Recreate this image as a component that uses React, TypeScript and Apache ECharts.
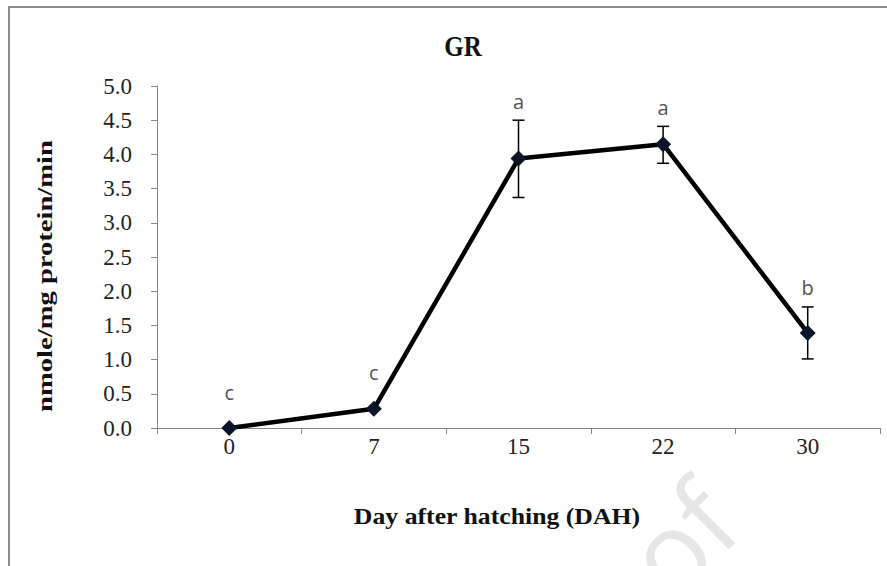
import React, { useEffect, useRef } from "react";
import * as echarts from "echarts";

// Glutathione reductase activity by larval age
const days = ["0", "7", "15", "22", "30"];
const activity = [0.0, 0.28, 3.94, 4.15, 1.39];
const errLow: (number | null)[] = [null, null, 3.37, 3.87, 1.01];
const errHigh: (number | null)[] = [null, null, 4.5, 4.41, 1.77];
const groups = ["c", "c", "a", "a", "b"];

const chartTitle = "GR";
const yName = "nmole/mg protein/min";
const xName = "Day after hatching (DAH)";
const watermark = "Proof";

const serif = "'Liberation Serif', 'Times New Roman', serif";
const sans = "'Open Sans', 'Liberation Sans', sans-serif";

export default function App() {
  const ref = useRef<HTMLDivElement>(null);

  useEffect(() => {
    if (!ref.current) return;
    const chart = echarts.init(ref.current, null, { renderer: "svg" });

    const errData = days
      .map((_, i) => (errLow[i] == null ? null : [i, errLow[i], errHigh[i]]))
      .filter((d) => d !== null);

    const letterData = days.map((_, i) => ({
      value: [i, errHigh[i] ?? activity[i]],
      label: { distance: errHigh[i] == null ? 26 : 9 },
    }));

    chart.setOption({
      animation: false,
      backgroundColor: "#ffffff",
      grid: { left: 157, right: 7, top: 86, bottom: 138 },
      xAxis: {
        type: "category",
        data: days,
        boundaryGap: true,
        axisLine: { show: true, lineStyle: { color: "#868686", width: 1 } },
        axisTick: { show: true, alignWithLabel: false, interval: 0, length: 6, lineStyle: { color: "#868686" } },
        axisLabel: { fontFamily: serif, fontSize: 23, color: "#222", margin: 7 },
        splitLine: { show: false },
      },
      yAxis: {
        type: "value",
        min: 0,
        max: 5,
        interval: 0.5,
        axisLine: { show: true, lineStyle: { color: "#868686", width: 1 } },
        axisTick: { show: true, length: 6, lineStyle: { color: "#868686" } },
        axisLabel: {
          fontFamily: serif,
          fontSize: 23,
          color: "#222",
          margin: 25,
          formatter: (v: number) => v.toFixed(1),
        },
        splitLine: { show: false },
      },
      graphic: [
        {
          type: "rect",
          silent: true,
          shape: { x: 9, y: 7, width: 900, height: 600 },
          style: { fill: "none", stroke: "#8c8c8c", lineWidth: 2 },
        },
        {
          type: "text",
          x: 463,
          y: 46,
          scaleY: 1.15,
          style: {
            text: chartTitle,
            font: `bold 25px ${serif}`,
            fill: "#111",
            align: "center",
            verticalAlign: "middle",
          },
        },
        {
          type: "text",
          x: 45,
          y: 276,
          rotation: Math.PI / 2,
          scaleX: 1.3,
          style: {
            text: yName,
            font: `bold 22px ${serif}`,
            fill: "#111",
            align: "center",
            verticalAlign: "middle",
          },
        },
        {
          type: "text",
          x: 497,
          y: 516,
          scaleX: 1.12,
          style: {
            text: xName,
            font: `bold 23px ${serif}`,
            fill: "#111",
            align: "center",
            verticalAlign: "middle",
          },
        },
        {
          type: "text",
          x: 755,
          y: 540,
          rotation: Math.PI / 4,
          z: -1,
          silent: true,
          style: {
            text: watermark,
            font: `110px ${sans}`,
            fill: "#e6e6e6",
            align: "right",
            verticalAlign: "bottom",
          },
        },
      ],
      series: [
        {
          type: "custom",
          z: 2,
          data: errData,
          renderItem: (params: any, api: any) => {
            const x = api.value(0);
            const lo = api.coord([x, api.value(1)]);
            const hi = api.coord([x, api.value(2)]);
            const w = 6;
            const style = { stroke: "#000", lineWidth: 1.5 };
            return {
              type: "group",
              children: [
                { type: "line", shape: { x1: lo[0], y1: lo[1], x2: hi[0], y2: hi[1] }, style },
                { type: "line", shape: { x1: hi[0] - w, y1: hi[1], x2: hi[0] + w, y2: hi[1] }, style },
                { type: "line", shape: { x1: lo[0] - w, y1: lo[1], x2: lo[0] + w, y2: lo[1] }, style },
              ],
            };
          },
        },
        {
          type: "line",
          z: 3,
          data: activity,
          symbol: "diamond",
          symbolSize: 16,
          lineStyle: { color: "#000", width: 4.5 },
          itemStyle: { color: "#0a1628" },
        },
        {
          type: "scatter",
          z: 4,
          symbolSize: 0,
          data: letterData,
          label: {
            show: true,
            position: "top",
            fontFamily: sans,
            fontSize: 20,
            color: "#222",
            formatter: (p: any) => groups[p.dataIndex],
          },
        },
      ],
    });

    return () => chart.dispose();
  }, []);

  return (
    <div
      ref={ref}
      style={{ position: "fixed", left: 0, top: 0, width: 887, height: 566 }}
    />
  );
}
